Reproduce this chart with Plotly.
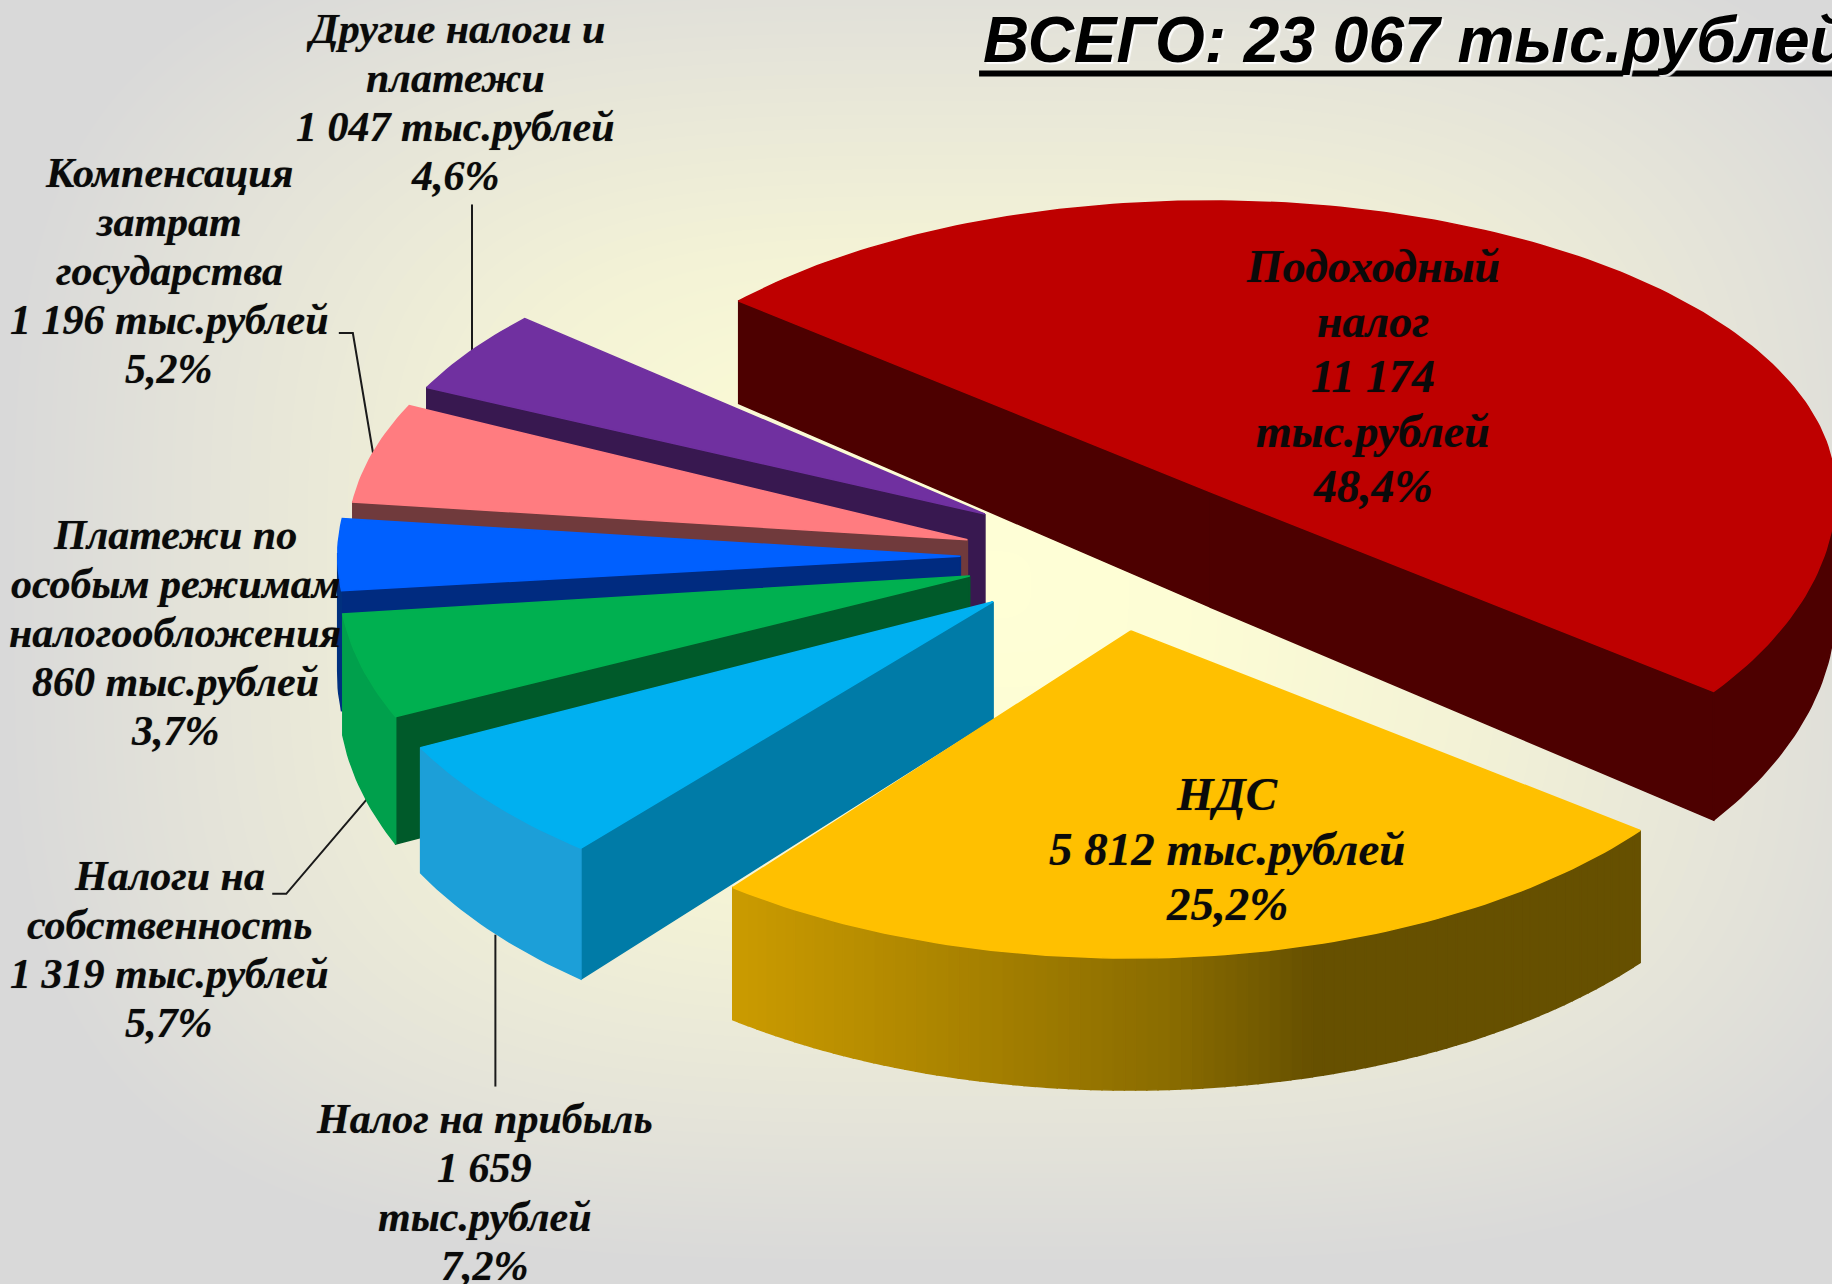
import numpy as np
import plotly.graph_objects as go

# ---------- data (pie order, clockwise) ----------
names = ["Подоходный<br>налог", "НДС", "Налог на прибыль", "Налоги на<br>собственность",
         "Платежи по<br>особым режимам<br>налогообложения", "Компенсация<br>затрат<br>государства",
         "Другие налоги и<br>платежи"]
values = [11174, 5812, 1659, 1319, 860, 1196, 1047]
value_labels = ["11 174<br>тыс.рублей", "5 812 тыс.рублей", "1 659<br>тыс.рублей", "1 319 тыс.рублей",
                "860 тыс.рублей", "1 196 тыс.рублей", "1 047 тыс.рублей"]
percent_labels = ["48,4%", "25,2%", "7,2%", "5,7%", "3,7%", "5,2%", "4,6%"]
total_label = "ВСЕГО: 23 067 тыс.рублей"

# ---------- styles and slice geometry (picture units: 1568 x 1099) ----------
START_ANGLE = -48.0
# apex x, apex y, rx, ry far side, ry near side
geom = [(1036, 421, 535, 249, 288), (968, 540, 550, 270, 280), (850, 515, 550, 265, 275),
        (830, 493, 540, 265, 290), (822, 476, 533, 265, 265), (828, 462, 530, 265, 265),
        (843, 440, 530, 250, 250)]
# perspective correction of the two cut edges, degrees
edge_shift = [(-1.0, 0), (1.2, 1.2), (2.8, 0), (2.5, 0), (0, 0), (0, 0), (0, 0)]
# wall height: base at y=262 and slope
depth_rule = [(88, 0.067), (113, 0.0), (86, 0.056), (88, 0.06), (88, 0.06), (88, 0.06), (88, 0.06)]
top_col = ["#BE0000", "#FFC000", "#00B0F0", "#00B050", "#0060FF", "#FF7C80", "#7030A0"]
wall_col = ["#4D0000", "#665000", "#007BA7", "#005A2A", "#002B80", "#703A3C", "#381850"]
rim_col = ["#4D0000", None, "#1C9FD8", "#00A04C", "#00307F", "#703A3C", "#381850"]
# x centre, y of first line, line pitch, font size
label_pos = [(1175, 228, 47, 46), (1050, 680, 47, 47), (415, 958, 42, 42), (145, 750, 42, 42),
             (150, 458, 42, 42), (145, 148, 42, 42), (390, 25, 42, 42)]
leaders = [([404, 404], [175, 303]), ([290, 302, 320], [285, 285, 392]),
           ([233, 245, 315], [765, 765, 683]), ([424, 424], [800, 930])]
draw_order = [0, 6, 5, 4, 3, 2, 1]


def depth(i, y):
    d0, k = depth_rule[i]
    return d0 + k * (np.asarray(y, float) - 262)


def point(g, deg):
    cx, cy, rx, ry_far, ry_near = g
    t = np.radians(deg)
    c = np.cos(t)
    ry = np.where(c >= 0, ry_far, ry_near)
    return cx + rx * np.sin(t), cy - ry * c


def gold_rim(x):
    xs = [622, 1000, 1125]
    r = np.interp(x, xs, [204, 138, 102])
    g = np.interp(x, xs, [156, 108, 80])
    return f"rgb({r:.0f},{g:.0f},0)"


def poly(fig, xs, ys, col):
    xs, ys = list(xs), list(ys)
    fig.add_trace(go.Scatter(x=xs + xs[:1], y=ys + ys[:1], mode="lines", fill="toself", fillcolor=col,
                             line=dict(color=col, width=1.5), hoverinfo="skip", showlegend=False))


fig = go.Figure()

# background glow
bx = np.arange(0, 1569, 6.0)
by = np.arange(0, 1100, 6.0)
BX, BY = np.meshgrid(bx, by)
P = 3.5
T = (np.abs((BX - 840) / 760) ** P + np.abs((BY - 500) / 530) ** P) ** (1 / P)
fig.add_trace(go.Heatmap(x=bx, y=by, z=T, zmin=0, zmax=1.1, zsmooth="best", showscale=False, hoverinfo="skip",
                         colorscale=[[0, "#FFFFD6"], [0.2, "#FDFDD5"], [0.5, "#F3F2D6"], [0.8, "#E4E3D9"], [1, "#D9D9D9"]]))

for xs, ys in leaders:
    fig.add_trace(go.Scatter(x=xs, y=ys, mode="lines", line=dict(color="#1A1A1A", width=2),
                             hoverinfo="skip", showlegend=False))

# angles come from the values
edges = START_ANGLE + 360 * np.concatenate([[0], np.cumsum(values)]) / np.sum(values)

for i in draw_order:
    g = geom[i]
    a, b = edges[i] + edge_shift[i][0], edges[i + 1] + edge_shift[i][1]
    cx, cy = g[0], g[1]
    # radial walls that face the viewer
    if np.sin(np.radians(a)) < 0:
        px, py = point(g, a)
        poly(fig, [cx, px, px, cx], [cy, py, py + depth(i, py), cy + depth(i, cy)], wall_col[i])
    if np.sin(np.radians(b)) > 0:
        px, py = point(g, b)
        poly(fig, [cx, px, px, cx], [cy, py, py + depth(i, py), cy + depth(i, cy)], wall_col[i])
    # outer rim
    degs = np.arange(a, b + 1, 1.0)
    degs = np.append(degs[degs < b], b)
    rim = [d for d in degs if np.cos(np.radians(d)) < 0.02]
    if rim_col[i] is None:
        for d0, d1 in zip(rim[:-1], rim[1:]):
            x0, y0 = point(g, d0)
            x1, y1 = point(g, d1)
            poly(fig, [x0, x1, x1, x0], [y0, y1, y1 + depth(i, y1), y0 + depth(i, y0)], gold_rim((x0 + x1) / 2))
    elif len(rim) > 1:
        rx_, ry_ = point(g, np.array(rim))
        poly(fig, np.r_[rx_, rx_[::-1]], np.r_[ry_, (ry_ + depth(i, ry_))[::-1]], rim_col[i])
    # top face
    tx, ty = point(g, degs)
    poly(fig, np.r_[cx, tx], np.r_[cy, ty], top_col[i])

# labels, one annotation per line so that the line pitch is independent of the font size
annotations = []
for i in range(len(names)):
    lx, ly, pitch, fs = label_pos[i]
    lines = f"{names[i]}<br>{value_labels[i]}<br>{percent_labels[i]}".split("<br>")
    for k, line in enumerate(lines):
        annotations.append(dict(x=lx, y=ly + k * pitch, xref="x", yref="y", showarrow=False, align="center",
                                xanchor="center", yanchor="middle", text=f"<b><i>{line}</i></b>",
                                font=dict(family="Liberation Serif", size=fs, color="#0A0A0A",
                                          shadow="0 0 1px rgba(0,0,0,0.45)")))
annotations.append(dict(x=840, y=34, xref="x", yref="y", showarrow=False, xanchor="left", yanchor="middle",
                        text=f"<b><i>{total_label}</i></b>",
                        font=dict(family="Liberation Sans", size=64, color="#000000",
                                  shadow="2px 2px 1px rgba(255,255,255,0.9)")))

fig.update_layout(
    width=1832, height=1284, margin=dict(l=0, r=0, t=0, b=0),
    paper_bgcolor="#D9D9D9", plot_bgcolor="#D9D9D9", showlegend=False,
    xaxis=dict(range=[0, 1568], visible=False, fixedrange=True),
    yaxis=dict(range=[1099, 0], visible=False, fixedrange=True),
    annotations=annotations,
    shapes=[dict(type="line", xref="x", yref="y", x0=838, x1=1568, y0=63, y1=63,
                 line=dict(color="#000000", width=6))],
)
fig.write_html("out.html", config=dict(displayModeBar=False),
               post_script="document.body.style.margin='0';document.body.style.overflow='hidden';")
